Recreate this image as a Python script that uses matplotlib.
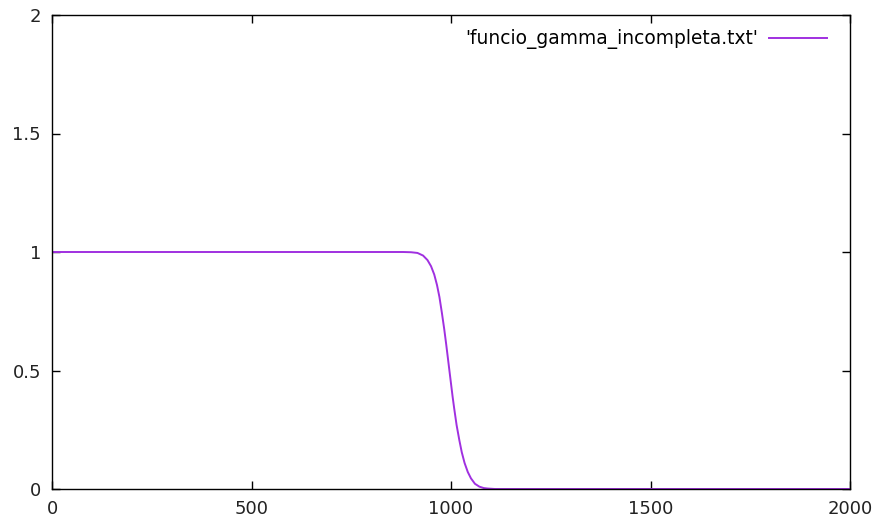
import numpy as np
import matplotlib.pyplot as plt

# valors llegits de la gràfica
x_vals = [0, 200, 400, 600, 800, 880, 900, 916, 930, 941, 950, 958, 965, 971,
          977, 983, 988, 992, 996, 1000, 1004, 1008, 1014, 1021, 1027, 1034,
          1042, 1050, 1060, 1071, 1082, 1092, 1110, 1200, 1500, 2000]
y_vals = [1, 1, 1, 1, 1, 1, 0.999, 0.996, 0.985, 0.966, 0.94, 0.905, 0.86, 0.81,
          0.745, 0.675, 0.61, 0.555, 0.5, 0.445, 0.39, 0.34, 0.27, 0.205, 0.155, 0.11,
          0.072, 0.045, 0.022, 0.010, 0.004, 0.002, 0, 0, 0, 0]

x_ticks = [0, 500, 1000, 1500, 2000]
y_ticks = [0, 0.5, 1, 1.5, 2]
y_tick_labels = ['0', '0.5', '1', '1.5', '2']
etiqueta = "'funcio_gamma_incompleta.txt'"

fig = plt.figure(figsize=(8.75, 5.24), dpi=100)
ax = fig.add_axes([52/875, 1 - 489/524, (850 - 52)/875, (489 - 15)/524])

ax.plot(x_vals, y_vals, color='#a030e0', linewidth=1.4, label=etiqueta)

ax.set_xlim(0, 2000)
ax.set_ylim(0, 2)
ax.set_xticks(x_ticks)
ax.set_yticks(y_ticks)
ax.set_yticklabels(y_tick_labels)
ax.tick_params(direction='in', length=6, width=1, top=True, right=True,
               labelsize=13, colors='#000000', labelcolor='#222222', pad=8)
for s in ax.spines.values():
    s.set_linewidth(1)

leg = ax.legend(loc='upper right', frameon=False, fontsize=13.4,
                handlelength=3.1, markerfirst=False, borderaxespad=0.3,
                handletextpad=0.6, borderpad=0.4,
                bbox_to_anchor=(1 - 10/798, 1 - 1/474))

plt.savefig('out.png', dpi=100)
